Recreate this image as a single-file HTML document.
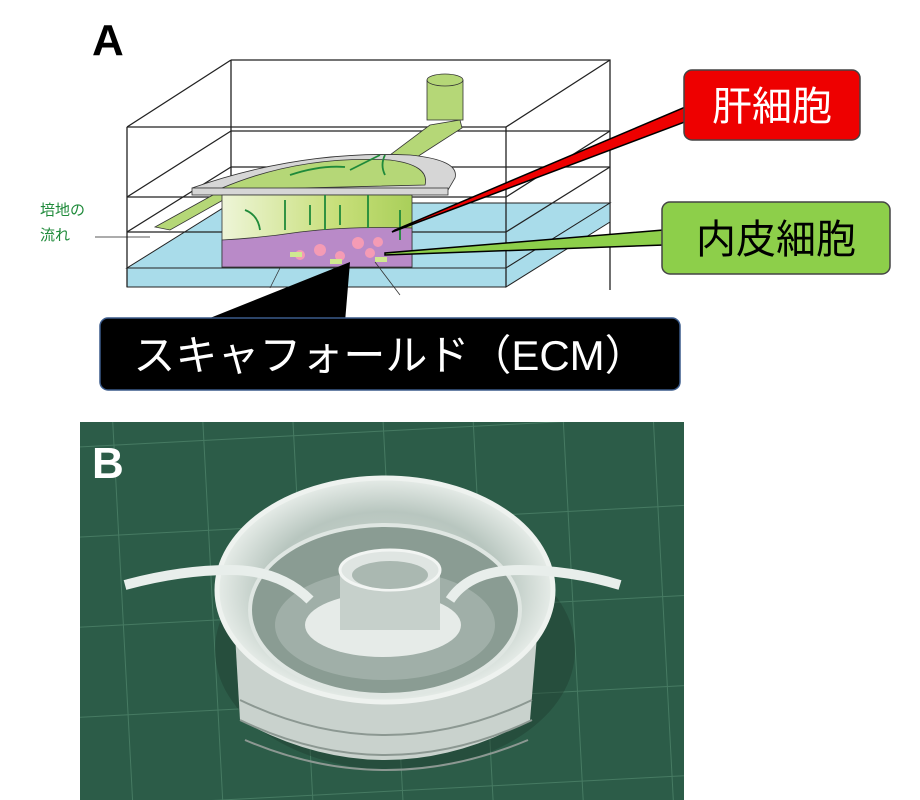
<!DOCTYPE html>
<html><head><meta charset="utf-8"><style>
body{margin:0;width:920px;height:800px;background:#fff;overflow:hidden;font-family:"Liberation Sans","Noto Sans CJK JP",sans-serif}
</style></head><body>
<svg width="920" height="800" viewBox="0 0 920 800" xmlns="http://www.w3.org/2000/svg" style="position:absolute;left:0;top:0">
<defs>
<linearGradient id="cyl" x1="0" x2="1"><stop offset="0" stop-color="#eef5d8"/><stop offset="0.6" stop-color="#c8df7a"/><stop offset="1" stop-color="#a9cf5a"/></linearGradient>
<pattern id="grid" width="90" height="90" patternUnits="userSpaceOnUse" patternTransform="rotate(-3)"><rect width="90" height="90" fill="#2c5c48"/><path d="M0 0H90M0 0V90" stroke="#467a62" stroke-width="2"/></pattern>
<radialGradient id="dev" cx="0.5" cy="0.5" r="0.5"><stop offset="0" stop-color="#d6ddd8"/><stop offset="0.7" stop-color="#b8c6bf"/><stop offset="1" stop-color="#e6ece8"/></radialGradient>
</defs>
<text x="92" y="55" font-size="44" font-weight="bold" fill="#000">A</text>
<g fill="none" stroke="#222" stroke-width="1.3">
<path d="M231 60H610V290"/><path d="M231 60V232"/>
<path d="M231 131H610M231 167H610"/>
</g>
<polygon points="127,268 231,203 610,203 506,268" fill="#a9dcea" stroke="#222" stroke-width="1"/>
<rect x="127" y="268" width="379" height="19" fill="#a9dcea" stroke="#222" stroke-width="1"/>
<polygon points="506,268 610,203 610,222 506,287" fill="#a9dcea" stroke="#222" stroke-width="1"/>
<g fill="none" stroke="#222" stroke-width="1.3">
<path d="M127 127H506V287M127 127V287"/>
<path d="M127 127L231 60M506 127L610 60"/>
<path d="M127 197H506M127 232H506"/>
<path d="M127 197L231 131M506 197L610 131M127 232L231 167M506 232L610 167"/>
</g>
<polygon points="155,227 222,190 232,195 170,230" fill="#b5d777" stroke="#333" stroke-width="0.8"/>
<polygon points="370,170 430,125 460,120 462,128 420,155 395,172" fill="#b5d777" stroke="#333" stroke-width="0.8"/>
<rect x="427" y="80" width="36" height="40" fill="#b5d777" stroke="#333" stroke-width="0.8"/>
<ellipse cx="445" cy="80" rx="18" ry="6" fill="#b5d777" stroke="#333" stroke-width="0.8"/>
<path d="M192 188 Q300 150 410 155 Q460 160 455 178 L448 190 Z" fill="#d6d6d6" stroke="#333" stroke-width="0.8"/>
<path d="M222 188 Q300 155 390 160 Q430 165 425 185 L222 190 Z" fill="#b5d777" stroke="#333" stroke-width="0.8"/>
<rect x="192" y="188" width="256" height="7" fill="#d6d6d6" stroke="#333" stroke-width="0.8"/>
<rect x="222" y="195" width="190" height="72" fill="url(#cyl)" stroke="#333" stroke-width="0.8"/>
<path d="M222 240 Q260 238 300 232 Q350 226 412 228 V267 H222 Z" fill="#b98ac8" stroke="#333" stroke-width="0.8"/>
<g fill="#f49bb5"><circle cx="300" cy="255" r="5"/><circle cx="320" cy="250" r="6"/><circle cx="340" cy="256" r="5"/><circle cx="358" cy="243" r="6"/><circle cx="370" cy="253" r="5"/><circle cx="378" cy="242" r="5"/></g>
<g fill="#cfe890"><rect x="290" y="252" width="12" height="5"/><rect x="330" y="259" width="12" height="5"/><rect x="375" y="257" width="12" height="5"/></g>
<g stroke="#1f8a3a" stroke-width="1.8" fill="none"><path d="M285 230V200M325 230V195M368 228V195M310 205V225M340 205V225M400 210V240M245 210Q258 215 260 230"/><path d="M290 175Q320 165 345 167M350 170L380 155M385 175Q380 165 385 155"/></g>
<text x="40" y="215" font-size="15" fill="#1f8a3a">培地の</text>
<text x="40" y="240" font-size="15" fill="#1f8a3a">流れ</text>
<line x1="95" y1="237" x2="150" y2="237" stroke="#222" stroke-width="0.8"/>
<line x1="270" y1="288" x2="280" y2="268" stroke="#333" stroke-width="0.8"/>
<line x1="400" y1="295" x2="375" y2="262" stroke="#333" stroke-width="0.8"/>
<polygon points="392,232 690,120 690,105 395,230" fill="#e00" stroke="#000" stroke-width="1.5"/>
<polygon points="385,255 664,245 664,230 385,253" fill="#8dcf4a" stroke="#000" stroke-width="1.5"/>
<polygon points="350,262 200,322 345,322" fill="#000"/>
<rect x="684" y="70" width="176" height="70" rx="8" fill="#e00" stroke="#444" stroke-width="1.5"/>
<text x="772" y="120" font-size="40" fill="#fff" text-anchor="middle">肝細胞</text>
<rect x="662" y="202" width="228" height="72" rx="8" fill="#8dcf4a" stroke="#444" stroke-width="1.5"/>
<text x="776" y="253" font-size="40" fill="#000" text-anchor="middle">内皮細胞</text>
<rect x="100" y="318" width="580" height="72" rx="8" fill="#000" stroke="#3a5a8a" stroke-width="1.5"/>
<text x="390" y="370" font-size="42" fill="#fff" text-anchor="middle">スキャフォールド（ECM）</text>
<rect x="80" y="422" width="604" height="378" fill="url(#grid)"/>
<ellipse cx="395" cy="650" rx="180" ry="120" fill="#1d3a2e" opacity="0.4"/>
<path d="M233 600 L240 720 Q385 800 530 720 L540 600 Z" fill="#c9d2cd"/>
<g stroke="#8c9892" stroke-width="2" fill="none"><path d="M240 700Q385 770 532 700"/><path d="M240 720Q385 790 532 720"/><path d="M245 740Q385 800 528 740"/></g>
<ellipse cx="385" cy="590" rx="168" ry="112" fill="url(#dev)" stroke="#eef2ef" stroke-width="5"/>
<ellipse cx="385" cy="610" rx="135" ry="85" fill="#8a9c93" stroke="#dfe6e2" stroke-width="4"/>
<ellipse cx="385" cy="625" rx="110" ry="55" fill="#a9b8b1" opacity="0.7"/>
<ellipse cx="383" cy="625" rx="78" ry="32" fill="#e6ebe8"/>
<rect x="340" y="570" width="100" height="60" fill="#c6d0cb"/>
<ellipse cx="390" cy="570" rx="50" ry="20" fill="#dfe5e2" stroke="#f2f5f3" stroke-width="3"/>
<ellipse cx="390" cy="575" rx="38" ry="14" fill="#aab8b1"/>
<path d="M125 585 Q180 570 230 570 Q280 570 310 600" stroke="#e8eeeb" stroke-width="10" fill="none"/>
<path d="M620 585 Q570 570 520 570 Q470 570 450 600" stroke="#e8eeeb" stroke-width="10" fill="none"/>
<text x="92" y="478" font-size="44" font-weight="bold" fill="#fff">B</text>
</svg>
</body></html>
